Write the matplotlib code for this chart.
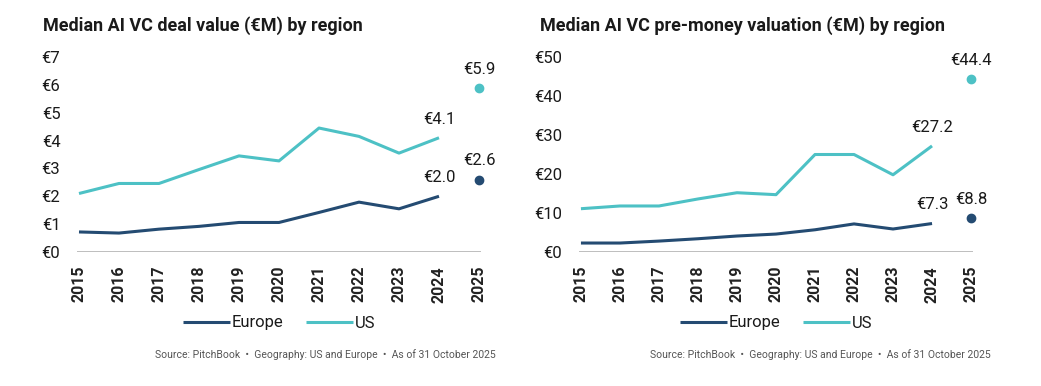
import matplotlib
matplotlib.use("Agg")
import matplotlib.pyplot as plt

years = [str(y) for y in range(2015, 2026)]

deal_europe = [0.72, 0.68, 0.82, 0.92, 1.06, 1.06, 1.42, 1.79, 1.55, 2.0]
deal_us = [2.1, 2.46, 2.46, 2.96, 3.45, 3.27, 4.45, 4.15, 3.55, 4.1]
deal_2025 = {"Europe": 2.6, "US": 5.9}

val_europe = [2.3, 2.3, 2.8, 3.4, 4.1, 4.6, 5.7, 7.2, 5.9, 7.3]
val_us = [11.1, 11.8, 11.8, 13.6, 15.2, 14.7, 25.0, 25.0, 19.8, 27.2]
val_2025 = {"Europe": 8.8, "US": 44.4}

EUROPE = "#244b72"
US = "#4dc1c5"
TEXT = "#1a1a1a"

plt.rcParams["font.family"] = ["Roboto", "DejaVu Sans"]

fig = plt.figure(figsize=(10.41, 3.86), dpi=100)
W, H = 1041, 386


def panel(left_px, right_px, title_px, title, europe, us, last, ymax, ystep, src_right):
    # axes box in pixel coords: top at ymax tick, bottom at zero line
    top, bottom = 57, 252
    ax = fig.add_axes([left_px / W, 1 - bottom / H, (right_px - left_px) / W, (bottom - top) / H])
    x = list(range(len(years) - 1))
    ax.plot(x, europe, color=EUROPE, lw=2.2, label="Europe", solid_capstyle="butt")
    ax.plot(x, us, color=US, lw=2.2, label="US", solid_capstyle="butt")
    ax.plot([10], [last["US"]], "o", color=US, ms=6, clip_on=False)
    ax.plot([10], [last["Europe"]], "o", color=EUROPE, ms=6, clip_on=False)

    for xv, yv in [(9, us[-1]), (9, europe[-1]), (10, last["US"]), (10, last["Europe"])]:
        ax.annotate(f"€{yv:.1f}", (xv, yv), xytext=(0, 8), textcoords="offset points",
                    ha="center", va="bottom", fontsize=12, color=TEXT)

    ax.set_xlim(-0.05, 10.05)
    ax.set_ylim(0, ymax)
    ax.set_yticks(range(0, ymax + 1, ystep))
    ax.set_yticklabels([f"€{v}" for v in range(0, ymax + 1, ystep)], fontsize=12, color=TEXT)
    ax.set_xticks(range(len(years)))
    ax.set_xticklabels(years, rotation=90, fontsize=11.5, fontweight="bold", color="#222222")
    ax.tick_params(length=0, axis="y", pad=12)
    ax.tick_params(length=0, axis="x", pad=10)
    for s in ax.spines.values():
        s.set_visible(False)
    ax.axhline(0, color="#b3b3b3", lw=1.2, zorder=0.5)

    fig.text(title_px / W, 1 - 26 / H, title, fontsize=13, fontweight="bold",
             color=TEXT, va="center", ha="left")

    leg = ax.legend(loc="center", bbox_to_anchor=(0.5, 1 - (323 - top) / (bottom - top)),
                    ncol=2, frameon=False, fontsize=12, handlelength=2.8, handletextpad=0.1,
                    columnspacing=1.4)
    for t in leg.get_texts():
        t.set_color(TEXT)
    fig.text(src_right / W, 1 - 355 / H,
             "Source: PitchBook  •  Geography: US and Europe  •  As of 31 October 2025",
             fontsize=7.5, color="#555555", ha="right", va="center")
    return ax


panel(77, 481, 43, "Median AI VC deal value (€M) by region",
      deal_europe, deal_us, deal_2025, 7, 1, 496)
panel(579, 973, 540, "Median AI VC pre-money valuation (€M) by region",
      val_europe, val_us, val_2025, 50, 10, 991)

fig.savefig("out.png", dpi=100)
